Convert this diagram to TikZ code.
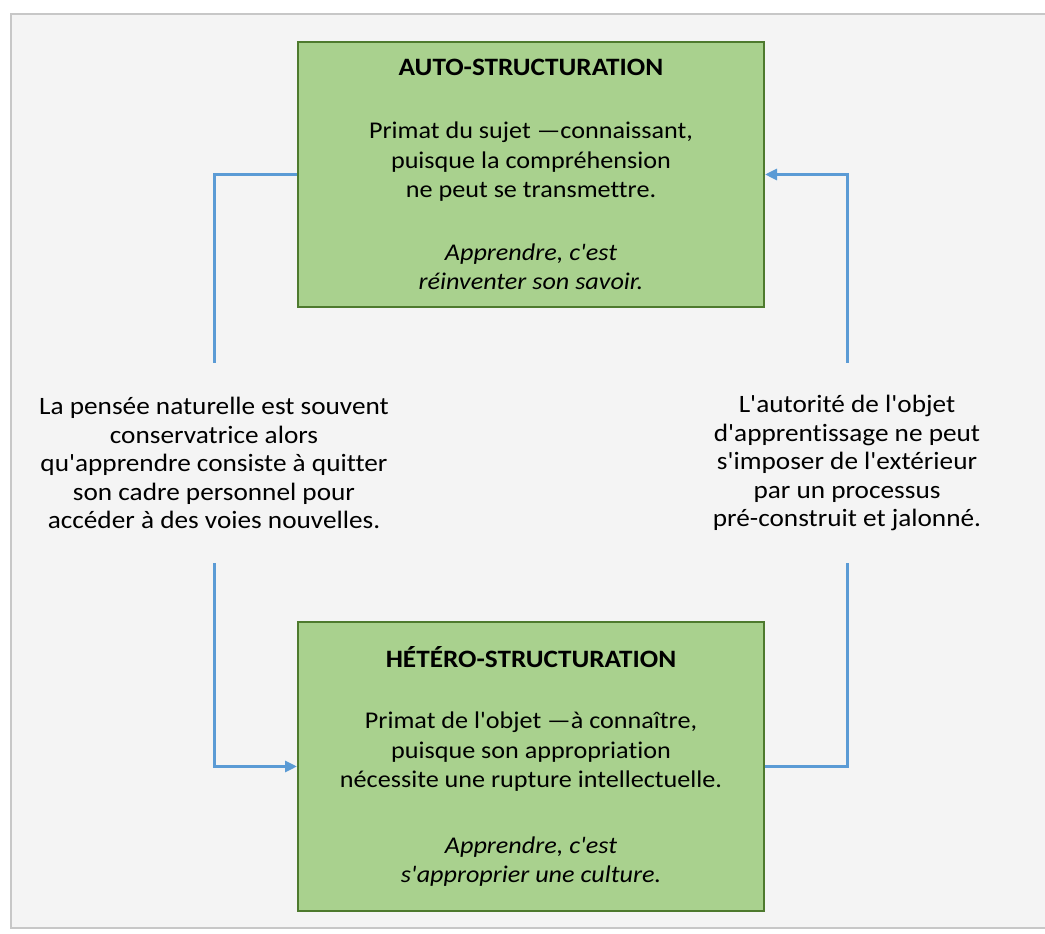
\documentclass[tikz,border=0pt]{standalone}
\usepackage{fontspec}
\setmainfont{Carlito}[Ligatures={TeXOff, NoCommon}, FakeStretch=1.09]
\usepackage{tikz}
\usetikzlibrary{arrows.meta}
\definecolor{boxFill}{HTML}{A9D18E}
\definecolor{boxLine}{HTML}{4E7A2E}
\definecolor{linkColor}{HTML}{5B9BD5}
\definecolor{pageColor}{HTML}{F4F4F4}

\begin{document}
\begin{tikzpicture}[x=1pt, y=1pt,
    stagebox/.style={draw=boxLine, line width=2pt, fill=boxFill, inner sep=0pt,
        minimum width=466pt, align=center, font=\fontsize{24}{29.5}\selectfont},
    stagetitle/.style={},
    sidetext/.style={inner sep=0pt, minimum height=200pt, align=center,
        font=\fontsize{25}{28.5}\selectfont},
    link/.style={draw=linkColor, line width=3pt},
    tip/.style={-{Triangle[length=12pt, width=11pt]}}]
    \useasboundingbox (0, 0) rectangle (1045, 934);
    \fill[white] (0, 0) rectangle (1045, 934);
    \draw[draw=black!22, line width=2.5pt, fill=pageColor] (11, 6) rectangle (1050, 920);

    % the two stages
    \node[stagebox, minimum height=265pt] (auto) at (531, 759.5) {%
        \fontsize{25}{29.5}\selectfont\textbf{AUTO-STRUCTURATION}\\[34pt]
        Primat du sujet —connaissant,\\
        puisque la compréhension\\
        ne peut se transmettre.\\[33pt]
        \textit{Apprendre, c'est}\\
        \textit{réinventer son savoir.}};
    \node[stagebox, minimum height=289pt] (hetero) at (531, 167.5) {%
        \fontsize{25}{29.5}\selectfont\textbf{HÉTÉRO-STRUCTURATION}\\[32pt]
        Primat de l'objet —à connaître,\\
        puisque son appropriation\\
        nécessite une rupture intellectuelle.\\[36pt]
        \textit{Apprendre, c'est}\\
        \textit{s'approprier une culture.}};

    % what drives the passage from one to the other
    \node[sidetext] (naturelle) at (214, 471) {%
        La pensée naturelle est souvent\\
        conservatrice alors\\
        qu'apprendre consiste à quitter\\
        son cadre personnel pour\\
        accéder à des voies nouvelles.};
    \node[sidetext] (autorite) at (847, 471) {%
        L'autorité de l'objet\\
        d'apprentissage ne peut\\
        s'imposer de l'extérieur\\
        par un processus\\
        pré-construit et jalonné.};

    \draw[link] (auto.west) -| (naturelle.north);
    \draw[link, tip] (naturelle.south) |- (hetero.west);
    \draw[link] (hetero.east) -| (autorite.south);
    \draw[link, tip] (autorite.north) |- (auto.east);
\end{tikzpicture}
\end{document}
